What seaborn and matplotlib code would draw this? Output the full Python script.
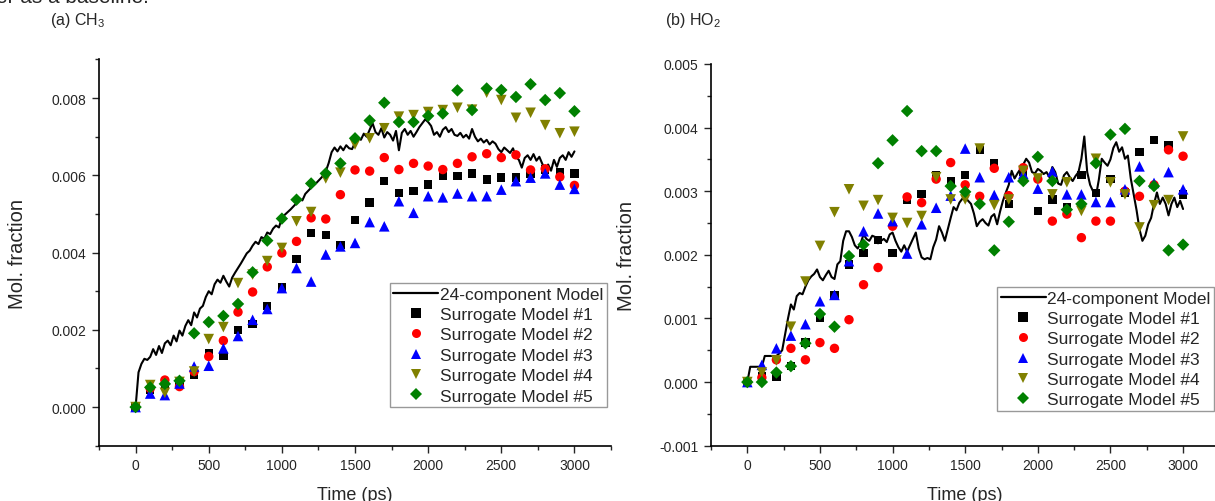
import numpy as np
import pandas as pd
import seaborn as sns
import matplotlib.pyplot as plt
from matplotlib.lines import Line2D
from matplotlib.ticker import MultipleLocator, FormatStrFormatter

sns.set_style("ticks")
plt.rcParams["font.family"] = ["Liberation Sans", "DejaVu Sans"]
plt.rcParams["mathtext.fontset"] = "custom"
plt.rcParams["mathtext.rm"] = "Liberation Sans"
plt.rcParams["mathtext.it"] = "Liberation Sans"
plt.rcParams["axes.unicode_minus"] = False

# time points of the surrogate models (ps)
t_pts = list(range(0, 3001, 100))
# time grid of the 24-component trace (ps)
t_line = list(range(0, 3001, 20))

# ---------------- (a) CH3 ----------------
ch3_line = [
    0.00000, 0.00090, 0.00112, 0.00125, 0.00122, 0.00130, 0.00150, 0.00135, 0.00158, 0.00140,
    0.00165, 0.00172, 0.00160, 0.00185, 0.00170, 0.00198, 0.00185, 0.00210, 0.00225, 0.00212,
    0.00245, 0.00232, 0.00255, 0.00262, 0.00285, 0.00300, 0.00292, 0.00318, 0.00330, 0.00322,
    0.00340, 0.00325, 0.00312, 0.00335, 0.00348, 0.00360, 0.00372, 0.00385, 0.00398, 0.00405,
    0.00418, 0.00428, 0.00422, 0.00440, 0.00436, 0.00452, 0.00448, 0.00462, 0.00470, 0.00465,
    0.00490, 0.00498, 0.00505, 0.00512, 0.00520, 0.00528, 0.00540, 0.00535, 0.00552, 0.00560,
    0.00568, 0.00575, 0.00582, 0.00590, 0.00598, 0.00610, 0.00632, 0.00660, 0.00672, 0.00662,
    0.00675, 0.00665, 0.00678, 0.00670, 0.00668, 0.00685, 0.00698, 0.00692, 0.00708, 0.00700,
    0.00718, 0.00735, 0.00712, 0.00705, 0.00722, 0.00698, 0.00712, 0.00705, 0.00690, 0.00715,
    0.00665, 0.00710, 0.00720, 0.00705, 0.00715, 0.00700, 0.00712, 0.00725, 0.00735, 0.00745,
    0.00738, 0.00728, 0.00705, 0.00712, 0.00700, 0.00718, 0.00725, 0.00712, 0.00720, 0.00705,
    0.00702, 0.00710, 0.00698, 0.00705, 0.00695, 0.00720, 0.00700, 0.00688, 0.00695, 0.00685,
    0.00692, 0.00680, 0.00688, 0.00682, 0.00668, 0.00660, 0.00672, 0.00665, 0.00658, 0.00670,
    0.00648, 0.00640, 0.00620, 0.00645, 0.00652, 0.00640, 0.00655, 0.00638, 0.00648, 0.00630,
    0.00615, 0.00628, 0.00612, 0.00640, 0.00622, 0.00645, 0.00652, 0.00640, 0.00660, 0.00648,
    0.00662,
]
ch3_s1 = [0.0, 0.00044, 0.00057, 0.00061, 0.00083, 0.00139, 0.00132, 0.00200, 0.00215, 0.00262,
          0.00311, 0.00383, 0.00451, 0.00446, 0.00419, 0.00484, 0.00530, 0.00586, 0.00555, 0.00559,
          0.00576, 0.00598, 0.00598, 0.00605, 0.00589, 0.00594, 0.00594, 0.00605, 0.00615, 0.00607,
          0.00605]
ch3_s2 = [0.0, 0.00048, 0.00070, 0.00053, 0.00092, 0.00131, 0.00172, 0.00246, 0.00298, 0.00363,
          0.00399, 0.00429, 0.00490, 0.00487, 0.00550, 0.00614, 0.00611, 0.00646, 0.00615, 0.00631,
          0.00624, 0.00615, 0.00631, 0.00648, 0.00656, 0.00646, 0.00653, 0.00614, 0.00617, 0.00596,
          0.00574]
ch3_s3 = [0.0, 0.00035, 0.00031, 0.00061, 0.00105, 0.00107, 0.00152, 0.00184, 0.00226, 0.00254,
          0.00308, 0.00360, 0.00325, 0.00395, 0.00416, 0.00425, 0.00479, 0.00468, 0.00533, 0.00503,
          0.00546, 0.00543, 0.00553, 0.00546, 0.00546, 0.00563, 0.00585, 0.00594, 0.00605, 0.00576,
          0.00565]
ch3_s4 = [0.0, 0.00057, 0.00037, 0.00065, 0.00092, 0.00176, 0.00207, 0.00321, 0.00343, 0.00378,
          0.00412, 0.00481, 0.00505, 0.00592, 0.00607, 0.00680, 0.00696, 0.00722, 0.00752, 0.00756,
          0.00764, 0.00769, 0.00775, 0.00770, 0.00814, 0.00795, 0.00749, 0.00762, 0.00730, 0.00709,
          0.00713]
ch3_s5 = [0.0, 0.00051, 0.00060, 0.00068, 0.00191, 0.00220, 0.00236, 0.00267, 0.00349, 0.00431,
          0.00488, 0.00537, 0.00579, 0.00605, 0.00631, 0.00696, 0.00742, 0.00788, 0.00738, 0.00738,
          0.00754, 0.00760, 0.00820, 0.00769, 0.00825, 0.00821, 0.00803, 0.00836, 0.00795, 0.00813,
          0.00766]

# ---------------- (b) HO2 ----------------
ho2_line = [
    0.00000, 0.00024, 0.00024, 0.00024, 0.00024, 0.00024, 0.00041, 0.00041, 0.00041, 0.00041,
    0.00041, 0.00045, 0.00050, 0.00075, 0.00100, 0.00122, 0.00114, 0.00135, 0.00140, 0.00138,
    0.00150, 0.00160, 0.00166, 0.00170, 0.00177, 0.00165, 0.00160, 0.00168, 0.00175, 0.00165,
    0.00162, 0.00185, 0.00190, 0.00222, 0.00237, 0.00237, 0.00228, 0.00215, 0.00210, 0.00218,
    0.00232, 0.00225, 0.00222, 0.00230, 0.00228, 0.00218, 0.00222, 0.00225, 0.00220, 0.00232,
    0.00235, 0.00222, 0.00212, 0.00205, 0.00215, 0.00205, 0.00215, 0.00225, 0.00235, 0.00210,
    0.00196, 0.00193, 0.00195, 0.00193, 0.00212, 0.00224, 0.00245, 0.00235, 0.00222, 0.00240,
    0.00258, 0.00275, 0.00270, 0.00282, 0.00288, 0.00290, 0.00285, 0.00280, 0.00265, 0.00245,
    0.00252, 0.00256, 0.00250, 0.00246, 0.00260, 0.00264, 0.00248, 0.00268, 0.00285, 0.00298,
    0.00310, 0.00332, 0.00320, 0.00328, 0.00335, 0.00342, 0.00351, 0.00345, 0.00330, 0.00328,
    0.00335, 0.00332, 0.00327, 0.00330, 0.00322, 0.00338, 0.00330, 0.00312, 0.00310, 0.00325,
    0.00330, 0.00322, 0.00316, 0.00324, 0.00330, 0.00351, 0.00386, 0.00330, 0.00310, 0.00300,
    0.00292, 0.00318, 0.00351, 0.00345, 0.00340, 0.00350, 0.00368, 0.00377, 0.00362, 0.00369,
    0.00351, 0.00356, 0.00320, 0.00295, 0.00270, 0.00240, 0.00222, 0.00230, 0.00248, 0.00258,
    0.00280, 0.00298, 0.00280, 0.00290, 0.00280, 0.00262, 0.00280, 0.00290, 0.00275, 0.00285,
    0.00272,
]
ho2_s1 = [0.0, 0.00010, 0.00008, 0.00025, 0.00062, 0.00101, 0.00137, 0.00185, 0.00203, 0.00223,
          0.00203, 0.00287, 0.00296, 0.00325, 0.00316, 0.00325, 0.00365, 0.00344, 0.00280, 0.00330,
          0.00269, 0.00287, 0.00275, 0.00325, 0.00297, 0.00319, 0.00298, 0.00362, 0.00380, 0.00372,
          0.00295]
ho2_s2 = [0.0, 0.00007, 0.00035, 0.00053, 0.00035, 0.00062, 0.00053, 0.00098, 0.00153, 0.00180,
          0.00245, 0.00291, 0.00282, 0.00319, 0.00345, 0.00310, 0.00292, 0.00336, 0.00293, 0.00337,
          0.00319, 0.00253, 0.00264, 0.00227, 0.00253, 0.00253, 0.00300, 0.00292, 0.00310, 0.00365,
          0.00355]
ho2_s3 = [0.0, 0.00027, 0.00053, 0.00073, 0.00091, 0.00127, 0.00137, 0.00190, 0.00237, 0.00265,
          0.00253, 0.00202, 0.00248, 0.00274, 0.00293, 0.00367, 0.00322, 0.00294, 0.00322, 0.00327,
          0.00304, 0.00331, 0.00295, 0.00295, 0.00283, 0.00283, 0.00303, 0.00339, 0.00313, 0.00330,
          0.00303]
ho2_s4 = [0.0, 0.00015, 0.00034, 0.00087, 0.00158, 0.00214, 0.00267, 0.00303, 0.00277, 0.00286,
          0.00258, 0.00250, 0.00261, 0.00322, 0.00287, 0.00287, 0.00367, 0.00278, 0.00287, 0.00332,
          0.00320, 0.00295, 0.00314, 0.00269, 0.00351, 0.00314, 0.00295, 0.00243, 0.00278, 0.00286,
          0.00386]
ho2_s5 = [0.0, 0.0, 0.00015, 0.00025, 0.00061, 0.00107, 0.00087, 0.00198, 0.00216, 0.00344,
          0.00380, 0.00426, 0.00363, 0.00363, 0.00308, 0.00299, 0.00280, 0.00207, 0.00252, 0.00316,
          0.00354, 0.00316, 0.00271, 0.00280, 0.00344, 0.00389, 0.00398, 0.00316, 0.00308, 0.00207,
          0.00216]

names = ["Surrogate Model #1", "Surrogate Model #2", "Surrogate Model #3",
         "Surrogate Model #4", "Surrogate Model #5"]
colors = ["#000000", "#ff0000", "#0000ff", "#808000", "#008000"]
markers = ["s", "o", "^", "v", "D"]
sizes = [36, 46, 58, 58, 40]

fig = plt.figure(figsize=(12.15, 5.02), dpi=100)
ax1 = fig.add_axes([0.0815, 0.1102, 0.4214, 0.7693])
ax2 = fig.add_axes([0.5852, 0.1102, 0.4184, 0.7604])


def draw(ax, line, series, ylim, ymaj, ymin):
    sns.lineplot(x=t_line, y=line, ax=ax, color="black", lw=1.5, legend=False, zorder=1)
    for vals, c, m, s in zip(series, colors, markers, sizes):
        sns.scatterplot(x=t_pts, y=vals, ax=ax, color=c, marker=m, s=s,
                        edgecolor="none", linewidth=0, legend=False, zorder=3)
    ax.set_xlim(-250, 3250)
    ax.set_ylim(*ylim)
    ax.xaxis.set_major_locator(MultipleLocator(500))
    ax.xaxis.set_minor_locator(MultipleLocator(250))
    ax.yaxis.set_major_locator(MultipleLocator(ymaj))
    ax.yaxis.set_minor_locator(MultipleLocator(ymin))
    ax.yaxis.set_major_formatter(FormatStrFormatter("%.3f"))
    ax.tick_params(which="major", direction="out", length=5, width=1, labelsize=10, pad=4)
    ax.tick_params(which="minor", direction="out", length=3, width=1)
    sns.despine(ax=ax)
    for sp in ["left", "bottom"]:
        ax.spines[sp].set_linewidth(1.2)
        ax.spines[sp].set_color("black")
    ax.set_xlabel("Time (ps)", fontsize=13, labelpad=10)
    ax.set_ylabel("Mol. fraction", fontsize=14.5)

    handles = [Line2D([0], [0], color="black", lw=1.6)]
    for c, m in zip(colors, markers):
        handles.append(Line2D([0], [0], ls="none", marker=m, color=c, markersize=6.5,
                              markeredgewidth=0))
    return handles


h = draw(ax1, ch3_line, [ch3_s1, ch3_s2, ch3_s3, ch3_s4, ch3_s5], (-0.001, 0.009), 0.002, 0.001)
draw(ax2, ho2_line, [ho2_s1, ho2_s2, ho2_s3, ho2_s4, ho2_s5], (-0.001, 0.005), 0.001, 0.0005)

labels = ["24-component Model"] + names
for ax, anchor in [(ax1, (0.568, 0.421)), (ax2, (0.5627, 0.4158))]:
    leg = ax.legend(h, labels, loc="upper left", bbox_to_anchor=anchor, fontsize=12.5,
                    frameon=True, fancybox=False, shadow=False, borderpad=0.2,
                    handlelength=2.6, handletextpad=0.1, labelspacing=0.3,
                    borderaxespad=0)
    leg.get_frame().set_edgecolor("#808080")
    leg.get_frame().set_linewidth(1.0)

ax1.yaxis.set_label_coords(-0.14, 0.5)
ax2.yaxis.set_label_coords(-0.147, 0.5)

fig.text(50 / 1215, 1 - 20 / 502, "(a) CH$_3$", fontsize=11.5, va="center", ha="left")
fig.text(665 / 1215, 1 - 20 / 502, "(b) HO$_2$", fontsize=11.5, va="center", ha="left")
fig.text(-0.003, 1 - 3 / 502, "er as a baseline.", fontsize=15, va="baseline", ha="left")

fig.savefig("out.png", dpi=100)
